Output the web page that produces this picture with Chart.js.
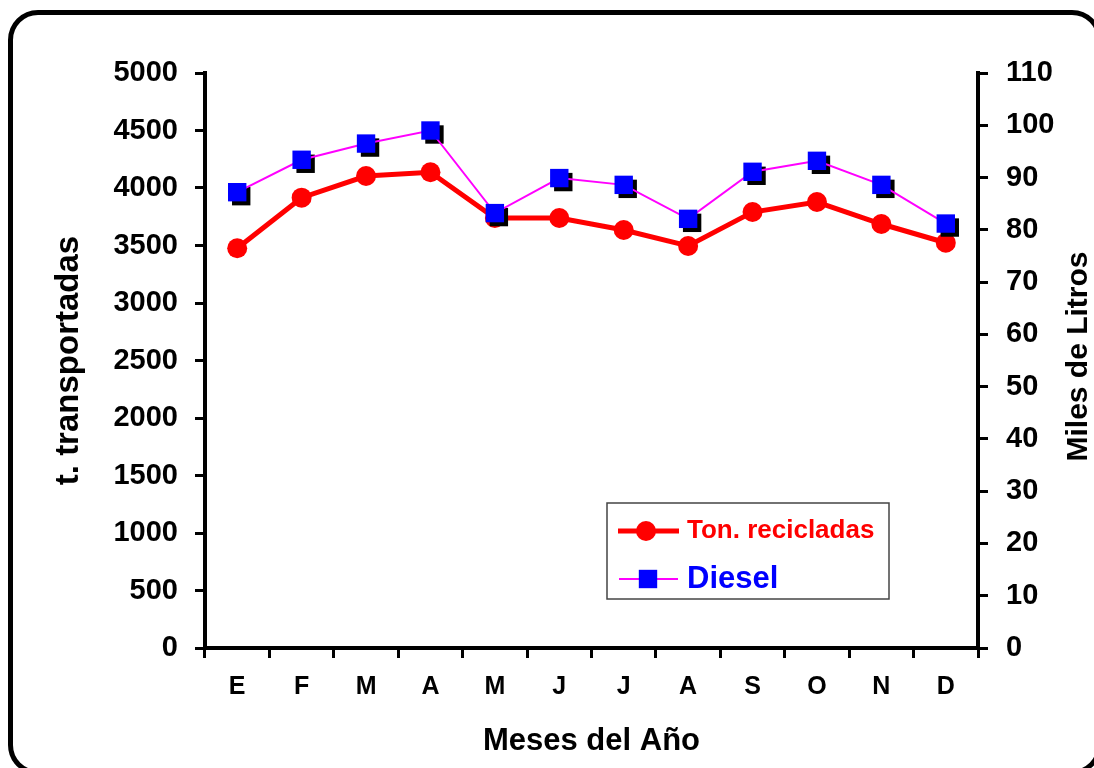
<!DOCTYPE html>
<html>
<head>
<meta charset="utf-8">
<script src="https://cdn.jsdelivr.net/npm/chart.js@4.4.0/dist/chart.umd.min.js"></script>
<style>
  html, body { margin: 0; background: #fff; overflow: hidden; }
  #marco { position: absolute; left: 8px; top: 10px; width: 1094px; height: 765px;
           border: 5px solid #000; border-radius: 30px; box-sizing: border-box; }
  #grafico { position: absolute; left: 0; top: 0; }
</style>
</head>
<body>
<div id="marco"></div>
<canvas id="grafico" width="1094" height="768"></canvas>
<script>
// datos
var meses = ['E', 'F', 'M', 'A', 'M', 'J', 'J', 'A', 'S', 'O', 'N', 'D'];
var tonRecicladas = [3476, 3916, 4104, 4137, 3739, 3739, 3635, 3496, 3791, 3878, 3687, 3524];
var dieselMiles = [87.2, 93.4, 96.5, 99.0, 83.2, 89.9, 88.6, 82.1, 91.1, 93.2, 88.6, 81.2];

var fuente = "'Liberation Sans', Arial, sans-serif";

// sombra negra detras de los cuadros azules
var sombraCuadros = {
    id: 'sombraCuadros',
    beforeDatasetDraw: function (chart, args) {
        var ds = chart.data.datasets[args.index];
        if (!ds.sombra) return;
        var ctx = chart.ctx;
        var r = ds.pointRadius * Math.SQRT1_2;
        ctx.save();
        ctx.fillStyle = '#000';
        args.meta.data.forEach(function (p) {
            ctx.fillRect(p.x - r + 4, p.y - r + 4, 2 * r, 2 * r);
        });
        ctx.restore();
    }
};

// titulo del eje derecho, leido de abajo hacia arriba
var tituloDerecho = {
    id: 'tituloDerecho',
    afterDraw: function (chart) {
        var ctx = chart.ctx;
        var s = chart.scales.y1;
        ctx.save();
        ctx.translate(s.right - 15, (s.top + s.bottom) / 2 - 4);
        ctx.rotate(-Math.PI / 2);
        ctx.font = 'bold 30px ' + fuente;
        ctx.fillStyle = '#000';
        ctx.textAlign = 'center';
        ctx.textBaseline = 'middle';
        ctx.fillText('Miles de Litros', 0, 0);
        ctx.restore();
    }
};

// leyenda dentro del area del grafico
var leyenda = {
    id: 'leyenda',
    afterDraw: function (chart) {
        var ctx = chart.ctx;
        var a = chart.chartArea;
        var x0 = a.left + 402, y0 = a.top + 430, w = 282, h = 96;
        var ton = chart.data.datasets[0], dsl = chart.data.datasets[1];
        ctx.save();
        ctx.strokeStyle = '#444';
        ctx.lineWidth = 1.5;
        ctx.strokeRect(x0, y0, w, h);

        // Ton. recicladas
        var yy = y0 + 28;
        ctx.strokeStyle = ton.borderColor;
        ctx.lineWidth = ton.borderWidth;
        ctx.beginPath(); ctx.moveTo(x0 + 11, yy); ctx.lineTo(x0 + 72, yy); ctx.stroke();
        ctx.fillStyle = ton.pointBackgroundColor;
        ctx.beginPath(); ctx.arc(x0 + 39, yy, ton.pointRadius, 0, Math.PI * 2); ctx.fill();
        ctx.font = 'bold 26px ' + fuente;
        ctx.textBaseline = 'middle';
        ctx.fillStyle = '#ff0000';
        ctx.fillText('Ton. recicladas', x0 + 80, yy);

        // Diesel
        yy = y0 + 76;
        ctx.strokeStyle = dsl.borderColor;
        ctx.lineWidth = dsl.borderWidth;
        ctx.beginPath(); ctx.moveTo(x0 + 12, yy); ctx.lineTo(x0 + 71, yy); ctx.stroke();
        ctx.fillStyle = dsl.pointBackgroundColor;
        var r = dsl.pointRadius * Math.SQRT1_2;
        ctx.fillRect(x0 + 41 - r, yy - r, 2 * r, 2 * r);
        ctx.font = 'bold 31px ' + fuente;
        ctx.fillStyle = '#0000ff';
        ctx.fillText('Diesel', x0 + 80, yy);
        ctx.restore();
    }
};

function ejeGrid() {
    return {
        drawOnChartArea: false,
        drawTicks: true,
        tickLength: 10,
        color: '#000',
        lineWidth: 3
    };
}

function sinComas(v) { return String(v); }

new Chart(document.getElementById('grafico'), {
    type: 'line',
    data: {
        labels: meses,
        datasets: [{
            label: 'Ton. recicladas',
            data: tonRecicladas,
            yAxisID: 'y',
            order: 1,
            borderColor: '#ff0000',
            borderWidth: 5,
            pointStyle: 'circle',
            pointRadius: 10,
            pointBorderWidth: 0,
            pointBackgroundColor: '#ff0000',
            pointBorderColor: '#ff0000',
            tension: 0
        }, {
            label: 'Diesel',
            data: dieselMiles,
            yAxisID: 'y1',
            order: 0,
            sombra: true,
            borderColor: '#ff00ff',
            borderWidth: 2,
            pointStyle: 'rect',
            pointRadius: 13,
            pointBorderWidth: 0,
            pointBackgroundColor: '#0000ff',
            pointBorderColor: '#0000ff',
            tension: 0
        }]
    },
    options: {
        responsive: false,
        animation: false,
        layout: { padding: { left: 52, right: 0, top: 73, bottom: 0 } },
        plugins: {
            legend: { display: false },
            tooltip: { enabled: false }
        },
        scales: {
            x: {
                offset: true,
                grid: Object.assign(ejeGrid(), { offset: true }),
                border: { color: '#000', width: 4 },
                ticks: { color: '#000', padding: 14, font: { family: fuente, size: 25, weight: 'bold' } },
                title: {
                    display: true, text: 'Meses del Año', color: '#000',
                    font: { family: fuente, size: 31, weight: 'bold', lineHeight: 1 },
                    padding: { top: 0, bottom: 11 }
                },
                afterFit: function (s) { s.height = 120; }
            },
            y: {
                position: 'left',
                min: 0, max: 5000,
                grid: ejeGrid(),
                border: { color: '#000', width: 4 },
                ticks: { stepSize: 500, callback: sinComas, color: '#000', padding: 17,
                         font: { family: fuente, size: 29, weight: 'bold' } },
                title: {
                    display: true, text: 't. transportadas', color: '#000',
                    font: { family: fuente, size: 33, weight: 'bold', lineHeight: 1 },
                    padding: { top: 0, bottom: 0 }
                },
                afterFit: function (s) { s.width = 153; }
            },
            y1: {
                position: 'right',
                min: 0, max: 110,
                grid: ejeGrid(),
                border: { color: '#000', width: 4 },
                ticks: { stepSize: 10, callback: sinComas, color: '#000', padding: 18,
                         font: { family: fuente, size: 29, weight: 'bold' } },
                afterFit: function (s) { s.width = 116; }
            }
        }
    },
    plugins: [sombraCuadros, tituloDerecho, leyenda]
});
</script>
</body>
</html>
